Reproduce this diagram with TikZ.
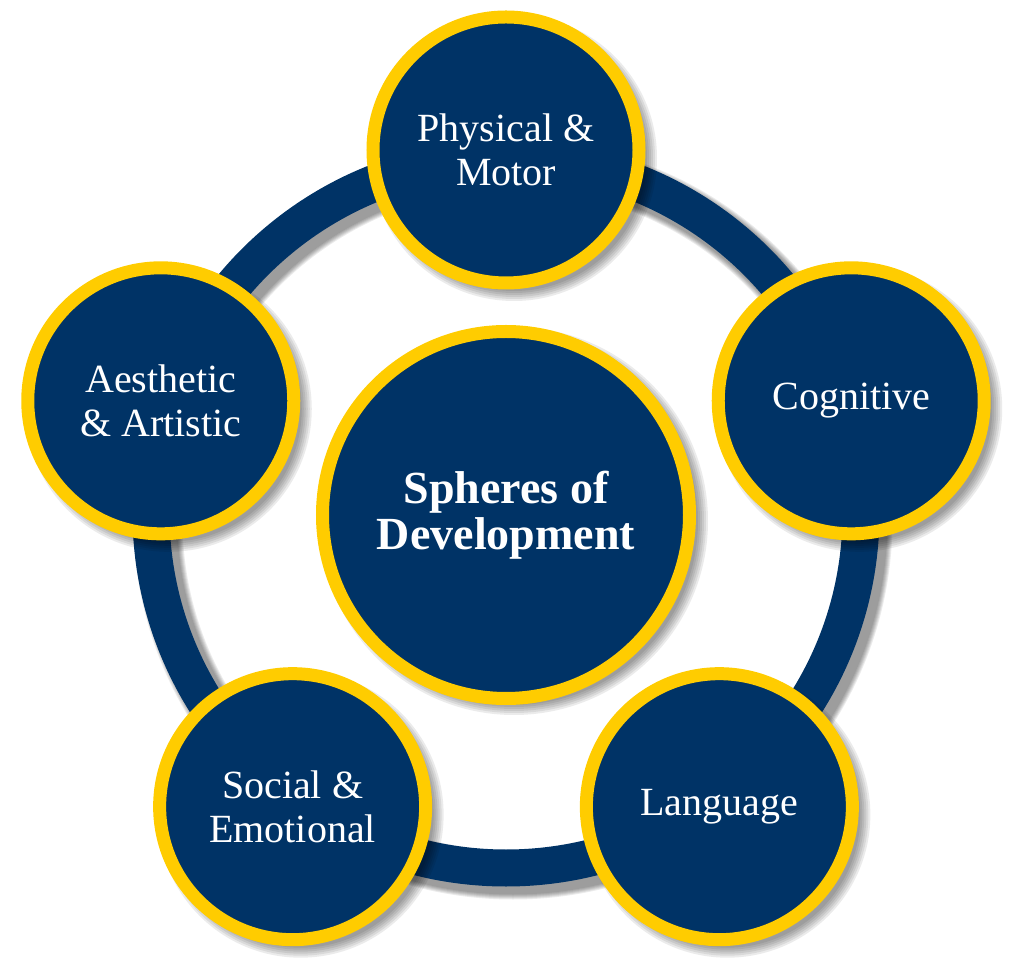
\documentclass[tikz,border=0pt]{standalone}
\usepackage{fontspec}
\setmainfont{Liberation Serif}
\usetikzlibrary{calc}
\definecolor{sphereblue}{HTML}{003366}
\definecolor{spheregold}{HTML}{FFCC00}

\begin{document}
\begin{tikzpicture}[
  x=1pt, y=1pt,
  sat/.style={circle, draw=spheregold, line width=13pt, fill=sphereblue, minimum size=266pt, inner sep=0pt, align=center, text=white, font=\fontsize{40}{44}\selectfont},
  hubnode/.style={sat, minimum size=367pt, font=\bfseries\fontsize{46}{46}\selectfont},
  ring/.style={draw=sphereblue, line width=37pt},
  shade/.style={black, opacity=0.08}
]
\useasboundingbox (-506,-460) rectangle (518,513);
\coordinate (hub) at (0,0);

% ring with its shadow
\foreach \w in {1,...,6}
  \draw[shade, line width={37+2*\w}] ($(hub)+(7,-7)$) circle (355);
\draw[ring] (hub) circle (355);

% the five spheres
\foreach \ang/\nm/\txt in {90/phys/{Physical \&\\Motor}, 18/cogn/{Cognitive}, -54/lang/{Language}, -126/soc/{Social \&\\Emotional}, 162/aest/{Aesthetic\\\& Artistic}} {
  \foreach \s in {0,...,5}
    \fill[shade] ($(hub)+(\ang:363)+(8,-8)$) circle ({143-2*\s});
  \node[sat] (\nm) at ($(hub)+(\ang:363)$) {\txt};
}

% centre
\foreach \s in {0,...,5}
  \fill[shade] ($(hub)+(8,-8)$) circle ({194-2*\s});
\node[hubnode, yshift=-2pt] (centre) at (hub) {Spheres of\\Development};
\end{tikzpicture}
\end{document}
